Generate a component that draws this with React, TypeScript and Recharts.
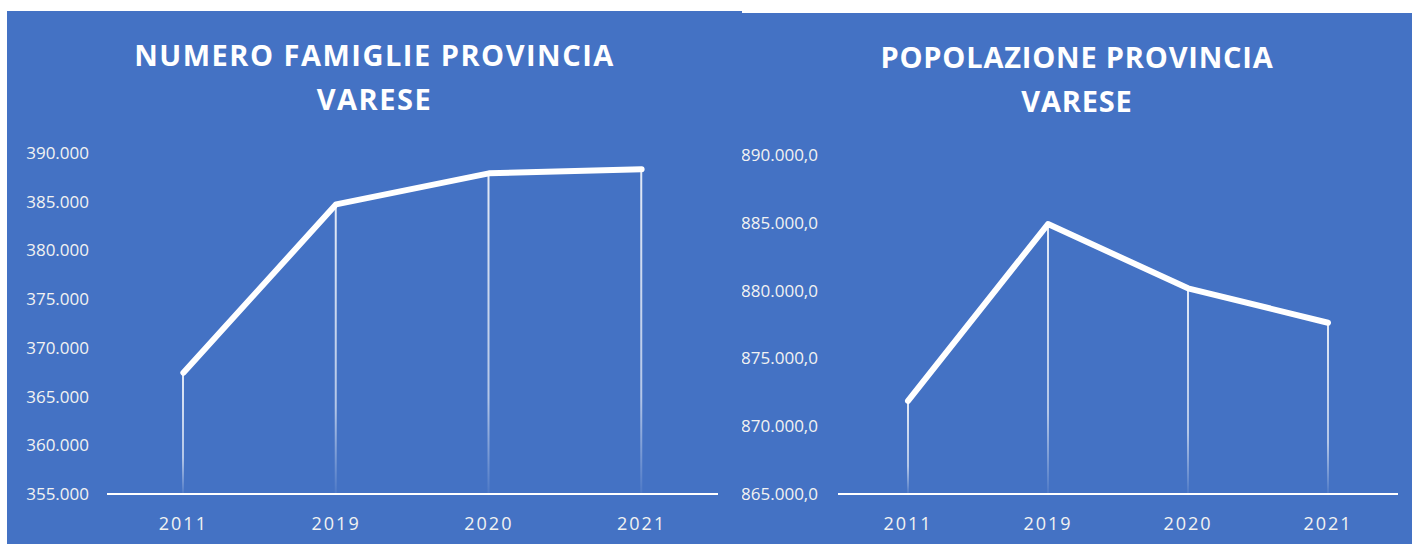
import { Bar, ComposedChart, Line, XAxis, YAxis } from "recharts";

const years = ["2011", "2019", "2020", "2021"];
const famiglie = [367450, 384730, 387910, 388330];
const popolazione = [871860, 884910, 880170, 877630];
const famiglieTicks = [355000, 360000, 365000, 370000, 375000, 380000, 385000, 390000];
const popolazioneTicks = [865000, 870000, 875000, 880000, 885000, 890000];

const BLUE = "#4472C4";
const FONT = "'Open Sans', sans-serif";

function thousands(value: number) {
  return String(Math.round(value)).replace(/\B(?=(\d{3})+(?!\d))/g, ".");
}

interface PanelProps {
  id: string;
  title: string[];
  titleSpacing: number;
  values: number[];
  ticks: number[];
  format: (value: number) => string;
  left: number;
  top: number;
  width: number;
  height: number;
  margin: { top: number; right: number; bottom: number; left: number };
  yWidth: number;
  yTickMargin: number;
}

function Panel({
  id,
  title,
  titleSpacing,
  values,
  ticks,
  format,
  left,
  top,
  width,
  height,
  margin,
  yWidth,
  yTickMargin,
}: PanelProps) {
  const data = years.map((year, i) => ({ year, value: values[i] }));

  return (
    <div
      style={{
        position: "absolute",
        left,
        top,
        width,
        height,
        background: BLUE,
      }}
    >
      <div
        style={{
          position: "absolute",
          top: 22,
          left: 0,
          width: "100%",
          textAlign: "center",
          color: "#ffffff",
          fontFamily: FONT,
          fontWeight: 700,
          fontSize: 29,
          letterSpacing: titleSpacing,
          lineHeight: "44px",
        }}
      >
        {title.map((line) => (
          <div key={line}>{line}</div>
        ))}
      </div>
      <div style={{ position: "absolute", left: 0, top: 0 }}>
        <ComposedChart width={width} height={height} data={data} margin={margin}>
          <defs>
            <linearGradient id={id} x1="0" y1="0" x2="0" y2="1">
              <stop offset="0%" stopColor="#ffffff" stopOpacity={0.85} />
              <stop offset="70%" stopColor="#ffffff" stopOpacity={0.6} />
              <stop offset="100%" stopColor="#ffffff" stopOpacity={0.05} />
            </linearGradient>
          </defs>
          <XAxis
            dataKey="year"
            axisLine={{ stroke: "#ffffff", strokeWidth: 2 }}
            tickLine={false}
            tickMargin={17}
            height={40}
            tick={{
              fill: "#F2F2F2",
              fontSize: 18,
              fontFamily: FONT,
              letterSpacing: 2,
            }}
          />
          <YAxis
            domain={[ticks[0], ticks[ticks.length - 1]]}
            ticks={ticks}
            allowDataOverflow
            axisLine={false}
            tickLine={false}
            width={yWidth}
            tickMargin={yTickMargin}
            tickFormatter={format}
            tick={{ fill: "#F2F2F2", fontSize: 17, fontFamily: FONT }}
          />
          <Bar
            dataKey="value"
            barSize={2}
            fill={`url(#${id})`}
            isAnimationActive={false}
          />
          <Line
            type="linear"
            dataKey="value"
            stroke="#ffffff"
            strokeWidth={6}
            strokeLinejoin="round"
            strokeLinecap="round"
            dot={false}
            activeDot={false}
            isAnimationActive={false}
          />
        </ComposedChart>
      </div>
    </div>
  );
}

export default function App() {
  return (
    <div
      style={{
        position: "absolute",
        left: 0,
        top: 0,
        width: 1412,
        height: 544,
        background: "#ffffff",
        overflow: "hidden",
      }}
    >
      <Panel
        id="fadeFamiglie"
        title={["NUMERO FAMIGLIE PROVINCIA", "VARESE"]}
        titleSpacing={1.5}
        values={famiglie}
        ticks={famiglieTicks}
        format={thousands}
        left={7}
        top={11}
        width={735}
        height={533}
        margin={{ top: 142, right: 24, bottom: 10, left: 0 }}
        yWidth={100}
        yTickMargin={12}
      />
      <Panel
        id="fadePopolazione"
        title={["POPOLAZIONE PROVINCIA", "VARESE"]}
        titleSpacing={0.8}
        values={popolazione}
        ticks={popolazioneTicks}
        format={(value) => `${thousands(value)},0`}
        left={742}
        top={13}
        width={670}
        height={531}
        margin={{ top: 142, right: 14, bottom: 10, left: 0 }}
        yWidth={96}
        yTickMargin={14}
      />
    </div>
  );
}
